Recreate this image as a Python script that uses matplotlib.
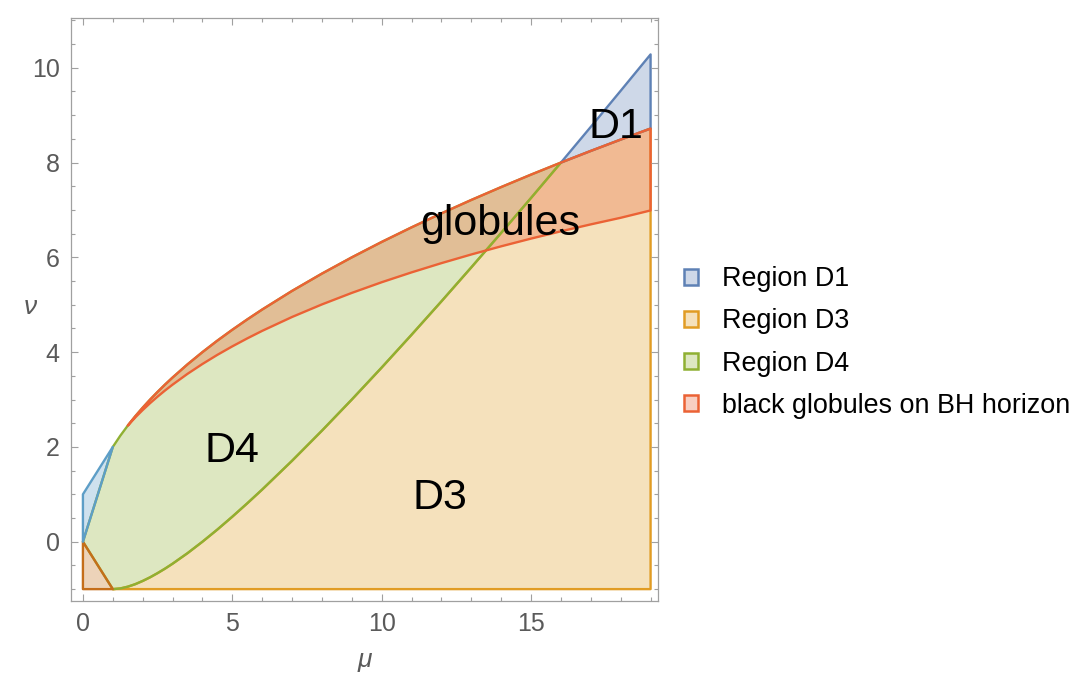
import matplotlib.pyplot as plt
import numpy as np
from matplotlib.patches import Patch
from matplotlib.colors import to_rgb
from matplotlib.ticker import MultipleLocator

plt.rcParams['font.family'] = ['Liberation Sans', 'DejaVu Sans']

# values
mu = [1.0, 1.25, 1.5, 1.75, 2.0, 2.25, 2.5, 2.75, 3.0, 3.5, 4.0, 4.5, 5.0, 5.5,
      6, 7, 8, 9, 10, 11, 12, 13, 14, 15, 16, 17, 18, 19]
# upper edge of the globule band (also top of D4 / bottom of D1)
upper = [2.000, 2.236, 2.449, 2.646, 2.828, 3.000, 3.162, 3.317, 3.464, 3.742,
         4.000, 4.243, 4.472, 4.690, 4.899, 5.292, 5.657, 6.000, 6.325, 6.633,
         6.928, 7.211, 7.483, 7.746, 8.000, 8.246, 8.485, 8.718]
# lower edge of the globule band, starts at mu = 1.5
lower = [2.449, 2.621, 2.778, 2.925, 3.062, 3.192, 3.314, 3.542, 3.750, 3.943,
         4.122, 4.290, 4.449, 4.742, 5.007, 5.250, 5.475, 5.683, 5.878, 6.061,
         6.233, 6.396, 6.550, 6.696, 6.835, 6.990]
# green curve between D3 and D4
green = [-1.000, -0.986, -0.949, -0.896, -0.828, -0.750, -0.662, -0.567, -0.464,
         -0.242, 0.000, 0.257, 0.528, 0.810, 1.101, 1.708, 2.343, 3.000, 3.675,
         4.367, 5.072, 5.789, 6.517, 7.254, 8.000, 8.754, 9.515, 10.282]

# small corner regions near the origin
tri_brown_mu = [0, 0, 1]
tri_brown_v = [0, -1, -1]
tri_blue_mu = [0, 0, 1]
tri_blue_v = [0, 1, 2]

labels = ['Region D1', 'Region D3', 'Region D4', 'black globules on BH horizon']

c_blue = '#5E81B5'
c_orange = '#E19C24'
c_green = '#8FB032'
c_red = '#EB6235'
c_brown = '#C56E1A'
c_lblue = '#5D9EC7'

m = np.array(mu)
U = np.array(upper)
L = np.array(lower)
G = np.array(green)
i16 = mu.index(16)
i15 = mu.index(1.5)

d3_x = np.r_[1, 19, m[i16:][::-1], m[:i16 + 1][::-1]]
d3_y = np.r_[-1, -1, U[i16:][::-1], G[:i16 + 1][::-1]]
d4_x = np.r_[0, m[:i16 + 1], m[:i16 + 1][::-1]]
d4_y = np.r_[0, U[:i16 + 1], G[:i16 + 1][::-1]]
d1_x = np.r_[m[i16:], m[i16:][::-1]]
d1_y = np.r_[G[i16:], U[i16:][::-1]]
band_x = np.r_[m[i15:], m[i15:][::-1]]
band_y = np.r_[L, U[i15:][::-1]]

regions = [(d3_x, d3_y, c_orange), (d4_x, d4_y, c_green), (d1_x, d1_y, c_blue),
           (tri_brown_mu, tri_brown_v, c_brown), (tri_blue_mu, tri_blue_v, c_lblue),
           (band_x, band_y, c_red)]

fig = plt.figure(figsize=(10.77, 6.77), dpi=100)
ax = fig.add_axes([0.0659, 0.1123, 0.5451, 0.8611])

for x, y, c in regions:
    ax.fill(x, y, facecolor=c, alpha=0.3, edgecolor='none')
for x, y, c in regions:
    ax.fill(x, y, facecolor='none', edgecolor=c, lw=1.7, joinstyle='round')

ax.set_xlim(-0.4, 19.25)
ax.set_ylim(-1.25, 11.05)

txt = dict(fontsize=31, ha='center', va='baseline', color='black')
ax.text(17.85, 8.51, 'D1', **txt)
ax.text(13.96, 6.47, 'globules', **txt)
ax.text(4.99, 1.68, 'D4', **txt)
ax.text(11.95, 0.68, 'D3', **txt)

frame_c = '#a0a0a0'
lab_c = '#5a5a5a'
for s in ax.spines.values():
    s.set_color(frame_c)
    s.set_linewidth(0.9)
ax.xaxis.set_major_locator(MultipleLocator(5))
ax.xaxis.set_minor_locator(MultipleLocator(1))
ax.yaxis.set_major_locator(MultipleLocator(2))
ax.yaxis.set_minor_locator(MultipleLocator(0.5))
ax.tick_params(which='both', direction='in', top=True, right=True,
               color=frame_c, labelcolor=lab_c, labelsize=18)
ax.tick_params(which='major', length=5, width=0.8, pad=8)
ax.tick_params(which='minor', length=3, width=0.8)

ax.text(0.5, -0.101, 'μ', transform=ax.transAxes, fontsize=19, style='italic',
        color=lab_c, ha='center', va='center')
ax.text(-0.07, 0.505, 'ν', transform=ax.transAxes, fontsize=19, style='italic',
        color=lab_c, ha='center', va='center')

handles = [Patch(facecolor=(*to_rgb(c), 0.3), edgecolor=c, lw=1.8)
           for c in [c_blue, c_orange, c_green, c_red]]
fig.legend(handles, labels, loc='center left', bbox_to_anchor=(0.635, 0.494),
           frameon=False, fontsize=19.4, handlelength=0.52, handleheight=0.52,
           handletextpad=0.9, labelspacing=0.6, borderpad=0, borderaxespad=0)

plt.savefig('out.png', dpi=100)
